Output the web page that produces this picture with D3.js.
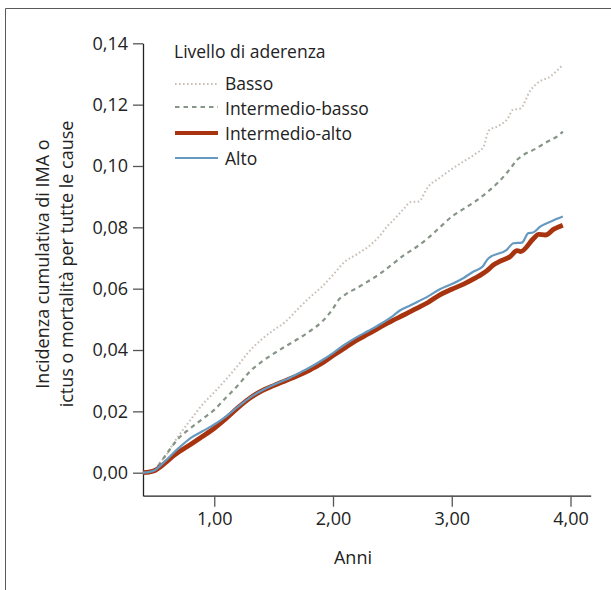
<!DOCTYPE html>
<html><head><meta charset="utf-8">
<script src="https://cdnjs.cloudflare.com/ajax/libs/d3/7.8.5/d3.min.js"></script>
<style>
html,body{margin:0;padding:0;background:#fff;}
svg{display:block;font-family:"Open Sans",sans-serif;}
</style></head>
<body>
<script>
// ---- data ----
const seriesNames = ["Basso", "Intermedio-basso", "Intermedio-alto", "Alto"];
const basso = [[0.40,0],[0.50,0.0010],[0.55,0.0035],[0.60,0.0060],[0.65,0.0092],[0.70,0.0120],[0.80,0.0172],[0.90,0.0222],[1.00,0.0262],[1.10,0.0305],[1.20,0.0350],[1.30,0.0398],[1.40,0.0435],[1.50,0.0465],[1.60,0.0492],[1.70,0.0532],[1.80,0.0570],[1.90,0.0604],[2.00,0.0645],[2.10,0.0688],[2.20,0.0712],[2.30,0.0738],[2.40,0.0775],[2.45,0.0800],[2.50,0.0820],[2.60,0.0862],[2.65,0.0882],[2.72,0.0884],[2.80,0.0932],[2.90,0.0962],[3.00,0.0990],[3.10,0.1015],[3.20,0.1040],[3.27,0.1065],[3.31,0.1115],[3.40,0.1132],[3.48,0.1160],[3.51,0.1182],[3.58,0.1188],[3.66,0.1245],[3.72,0.1270],[3.83,0.1292],[3.935,0.1330]];
const intermedioBasso = [[0.40,0],[0.50,0.0010],[0.55,0.0035],[0.60,0.0062],[0.70,0.0112],[0.80,0.0145],[0.90,0.0175],[1.00,0.0205],[1.10,0.0245],[1.20,0.0285],[1.30,0.0330],[1.40,0.0362],[1.50,0.0388],[1.60,0.0412],[1.70,0.0435],[1.80,0.0460],[1.90,0.0490],[1.95,0.0510],[2.00,0.0535],[2.05,0.0565],[2.10,0.0580],[2.20,0.0602],[2.30,0.0625],[2.40,0.0650],[2.50,0.0680],[2.60,0.0710],[2.70,0.0735],[2.80,0.0765],[2.90,0.0800],[3.00,0.0835],[3.10,0.0860],[3.20,0.0885],[3.30,0.0915],[3.40,0.0950],[3.50,0.0995],[3.55,0.1020],[3.60,0.1035],[3.70,0.1055],[3.80,0.1078],[3.90,0.1100],[3.935,0.1112]];
const intermedioAlto = [[0.40,0],[0.45,0.0002],[0.50,0.0007],[0.55,0.0020],[0.60,0.0036],[0.65,0.0053],[0.70,0.0067],[0.80,0.0092],[0.90,0.0118],[1.00,0.0145],[1.10,0.0177],[1.20,0.0212],[1.30,0.0243],[1.40,0.0267],[1.50,0.0284],[1.60,0.0300],[1.70,0.0316],[1.80,0.0334],[1.90,0.0355],[2.00,0.0382],[2.10,0.0407],[2.20,0.0432],[2.30,0.0453],[2.40,0.0475],[2.50,0.0496],[2.60,0.0515],[2.70,0.0535],[2.80,0.0555],[2.90,0.0580],[3.00,0.0598],[3.10,0.0615],[3.20,0.0635],[3.30,0.0660],[3.35,0.0677],[3.40,0.0688],[3.49,0.0704],[3.55,0.0724],[3.58,0.0721],[3.69,0.0764],[3.73,0.0777],[3.79,0.0775],[3.86,0.0794],[3.935,0.0807]];
const alto = [[0.40,0],[0.45,0.0002],[0.50,0.0008],[0.55,0.0024],[0.60,0.0042],[0.65,0.0062],[0.70,0.0080],[0.80,0.0113],[0.90,0.0135],[1.00,0.0157],[1.10,0.0184],[1.20,0.0215],[1.30,0.0245],[1.40,0.0268],[1.50,0.0287],[1.60,0.0303],[1.70,0.0322],[1.80,0.0342],[1.90,0.0365],[2.00,0.0390],[2.10,0.0418],[2.20,0.0442],[2.30,0.0463],[2.40,0.0485],[2.50,0.0510],[2.56,0.0528],[2.62,0.0540],[2.70,0.0555],[2.80,0.0575],[2.90,0.0598],[3.00,0.0615],[3.10,0.0635],[3.18,0.0655],[3.26,0.0672],[3.29,0.0690],[3.31,0.0699],[3.46,0.0726],[3.52,0.0748],[3.59,0.0750],[3.645,0.0781],[3.685,0.0783],[3.744,0.0802],[3.84,0.0820],[3.935,0.0835]];
const yTicks = [0, 0.02, 0.04, 0.06, 0.08, 0.10, 0.12, 0.14];
const xTicks = [1, 2, 3, 4];
const xTitle = "Anni";
const yTitle = ["Incidenza cumulativa di IMA o", "ictus o mortalità per tutte le cause"];
const legendTitle = "Livello di aderenza";

// ---- drawing ----
const W = 611, H = 590;
const FS = "18px";
const svg = d3.select("body").append("svg").attr("width", W).attr("height", H);

// frame
svg.append("path").attr("d", `M5.5,${H} V8.5 H${W}`).attr("fill","none").attr("stroke","#5a5a5a").attr("stroke-width",1);

const x = d3.scaleLinear().domain([0.4, 4.17]).range([143, 590.7]);
const y = d3.scaleLinear().domain([-0.0075, 0.14]).range([495.7, 43.3]);
const fmt = v => d3.format(".2f")(v).replace(".", ",");

const yAxis = svg.append("g").attr("transform","translate(143,0)")
  .call(d3.axisLeft(y).tickValues(yTicks).tickFormat(fmt).tickSize(10).tickSizeOuter(0).tickPadding(5));
const xAxis = svg.append("g").attr("transform","translate(0,495.7)")
  .call(d3.axisBottom(x).tickValues(xTicks).tickFormat(fmt).tickSize(11).tickSizeOuter(0).tickPadding(6));
[yAxis, xAxis].forEach(g => {
  g.select(".domain").attr("stroke","#222").attr("stroke-width",1.3);
  g.selectAll(".tick line").attr("stroke","#555").attr("stroke-width",1.3);
  g.selectAll(".tick text").attr("fill","#222").style("font-size",FS).style("font-family","'Open Sans',sans-serif");
});

svg.append("text").attr("x", 353).attr("y", 564).attr("text-anchor","middle")
  .attr("fill","#222").style("font-size",FS).style("font-weight","500").text(xTitle);
const yt = svg.append("text").attr("transform","translate(49,264) rotate(-90)").attr("text-anchor","middle")
  .attr("fill","#222").style("font-size",FS);
yTitle.forEach((t,i) => yt.append("tspan").attr("x",0).attr("dy", i===0 ? 0 : 23.5).text(t));

const styles = [
  {data: basso, color: "#c8beb6", width: 2, dash: "1.6,2.4"},
  {data: intermedioBasso, color: "#869587", width: 2.2, dash: "4.5,4"},
  {data: intermedioAlto, color: "#a8330f", width: 4.8, dash: null},
  {data: alto, color: "#6699bf", width: 2.2, dash: null}
];
const line = d3.line().x(d => x(d[0])).y(d => y(d[1])).curve(d3.curveMonotoneX);
styles.forEach(s => {
  svg.append("path").datum(s.data).attr("d", line).attr("fill","none")
    .attr("stroke", s.color).attr("stroke-width", s.width)
    .attr("stroke-dasharray", s.dash).attr("stroke-linejoin","round");
});

// legend
const lg = svg.append("g");
lg.append("text").attr("x",174).attr("y",58).attr("fill","#222").style("font-size","17.5px").text(legendTitle);
const lineY = [84, 107, 133, 158];
const textY = [90, 115, 140, 165];
seriesNames.forEach((n,i) => {
  const s = styles[i];
  lg.append("line").attr("x1",175).attr("x2",218).attr("y1",lineY[i]).attr("y2",lineY[i])
    .attr("stroke",s.color).attr("stroke-width", i===2 ? 4 : s.width).attr("stroke-dasharray", s.dash);
  lg.append("text").attr("x",225).attr("y",textY[i]).attr("fill","#222").style("font-size","17.5px").text(n);
});
</script>
</body></html>
